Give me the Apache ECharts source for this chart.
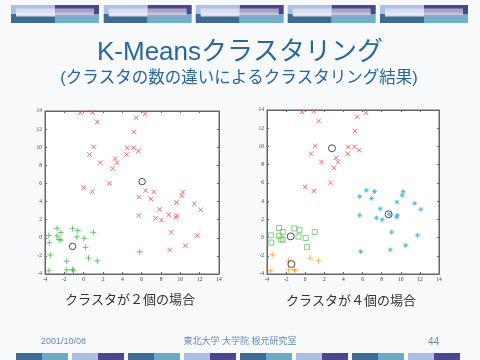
<!DOCTYPE html>
<html><head><meta charset="utf-8">
<script src="https://cdn.jsdelivr.net/npm/echarts@6/dist/echarts.min.js"></script>
<style>html,body{margin:0;padding:0;background:#f7f9fa;}#c{width:480px;height:360px;}</style>
</head><body><div id="c"></div>
<script>
// Data
const upperPts = [[-0.35,13.8],[0.9,13.85],[1.4,12.8],[5.45,13.25],[6.35,13.7],[5.2,11.7],[1.05,10.05],[0.6,9.2],[4.5,9.95],[5.15,9.95],[5.65,9.6],[4.45,9.2],[1.7,8.3],[3.25,8.75],[3.45,8.3],[3.0,7.65],[2.65,6.0],[0.0,5.55],[0.9,5.1]];
const rightPts = [[6.4,5.2],[7.25,5.05],[5.7,4.5],[6.95,4.3],[10.25,5.05],[10.15,4.65],[9.6,3.9],[11.45,3.75],[12.1,3.1],[7.85,3.15],[8.8,2.55],[9.65,2.45],[9.55,2.25],[5.7,2.45],[7.45,2.15],[8.05,1.95],[9.05,0.6],[11.75,0.25],[10.5,-0.85],[8.9,-1.35]];
const outlierPt = [[5.8,-1.55]];
const squarePts = [[-2.75,1.05],[-2.35,0.6],[-2.75,0.2],[-3.6,0.25],[-3.55,-0.55],[-2.55,-0.2],[-2.35,-0.25],[-1.15,1.0],[-0.6,0.8],[-0.7,0.1],[0.05,-0.05],[1.0,0.6],[0.2,-1.05]];
const lowPts = [[-3.45,-1.9],[0.5,-2.25],[1.4,-2.55],[-1.75,-2.6],[-3.6,-3.65],[-1.75,-3.55],[-1.15,-3.5],[-1.05,-3.65]];
const leftCenters = [[6.05,6.2],[-1.15,-0.95]];
const rightCenters = [[2.8,9.8],[8.73,2.55],[-1.52,0.13],[-1.45,-2.9]];
const axisMin = -4, axisMax = 14, axisStep = 2;
const titleText = 'K-Meansクラスタリング';
const subtitleText = '(クラスタの数の違いによるクラスタリング結果)';
const captionLeft = 'クラスタが２個の場合';
const captionRight = 'クラスタが４個の場合';
const footerDate = '2001/10/08';
const footerOrg = '東北大学 大学院 根元研究室';
const footerPage = '44';

const leftRed = upperPts.concat(rightPts);
const leftGreen = squarePts.concat(lowPts, outlierPt);
const rightCyan = rightPts.concat(outlierPt);

const X_PATH = 'path://M0,0L10,10M10,0L0,10';
const PLUS_PATH = 'path://M5,0L5,10M0,5L10,5';
const STAR_PATH = 'path://M0,5L10,5M5,0L5,10M1.5,1.5L8.5,8.5M8.5,1.5L1.5,8.5';

function mkAxis(type, pos, grid, labels){
  return {
    type:'value', gridIndex:grid, position:pos, min:axisMin, max:axisMax, interval:axisStep,
    axisLine:{show:true, onZero:false, lineStyle:{color:'#666', width:1}},
    axisTick:{show:true, inside:true, length:2, lineStyle:{color:'#666'}},
    axisLabel:{show:labels, fontSize:5.5, color:'#444', margin:3, fontFamily:'Liberation Serif'},
    splitLine:{show:false}
  };
}
function sc(data, xi, sym, size, color, z){
  return {type:'scatter', xAxisIndex:xi, yAxisIndex:xi, data:data, symbol:sym, symbolSize:size,
    itemStyle:{color:'transparent', borderColor:color, borderWidth:1}, z:z||2, silent:true, animation:false};
}

const graphics = [];
// top decorative bars
[11, 103.7, 195.7, 287.7, 380].forEach(x0=>{
  graphics.push({type:'rect', shape:{x:x0,y:5,width:44,height:9}, style:{fill:'#aebfe6'}});
  graphics.push({type:'rect', shape:{x:x0+44,y:5,width:44,height:9}, style:{fill:'#4a478a'}});
  graphics.push({type:'rect', shape:{x:x0,y:14,width:44,height:9}, style:{fill:'#3f6a94'}});
  graphics.push({type:'rect', shape:{x:x0+44,y:14,width:44,height:9}, style:{fill:'#70b0c8'}});
  graphics.push({type:'rect', shape:{x:x0+5,y:8.5,width:39,height:8}, style:{fill:'#d6def0'}});
  graphics.push({type:'rect', shape:{x:x0+44,y:8.5,width:39,height:8}, style:{fill:'#a6a2cc'}});
  graphics.push({type:'rect', shape:{x:x0+5,y:12.5,width:78,height:2.5}, style:{fill:'#ffffff', opacity:0.35}});
});
// bottom decorative bars
[16,72,128,184,240,296,352,408].forEach((x0,i)=>{
  const a = i%2===0 ? ['#3f6a94','#6aaac4'] : ['#aebfe6','#4a478a'];
  graphics.push({type:'rect', shape:{x:x0,y:353,width:26,height:7}, style:{fill:a[0]}});
  graphics.push({type:'rect', shape:{x:x0+26,y:353,width:26,height:7}, style:{fill:a[1]}});
});
const jp = "'Liberation Sans','Noto Sans CJK JP',sans-serif";
graphics.push({type:'text', x:240, y:53, style:{text:titleText, font:'26px '+jp, fill:'#2a679c', textAlign:'center', textVerticalAlign:'middle'}});
graphics.push({type:'text', x:239, y:78, style:{text:subtitleText, font:'16.5px '+jp, fill:'#2a679c', textAlign:'center', textVerticalAlign:'middle'}});
graphics.push({type:'text', x:130, y:300, style:{text:captionLeft, font:'13px '+jp, fill:'#333', textAlign:'center', textVerticalAlign:'middle'}});
graphics.push({type:'text', x:351, y:301, style:{text:captionRight, font:'13px '+jp, fill:'#333', textAlign:'center', textVerticalAlign:'middle'}});
graphics.push({type:'text', x:41, y:342, style:{text:footerDate, font:'9px '+jp, fill:'#6a8ab4', textAlign:'left', textVerticalAlign:'middle'}});
graphics.push({type:'text', x:240, y:342, style:{text:footerOrg, font:'9px '+jp, fill:'#6a8ab4', textAlign:'center', textVerticalAlign:'middle'}});
graphics.push({type:'text', x:439, y:342, style:{text:footerPage, font:'10px '+jp, fill:'#6a8ab4', textAlign:'right', textVerticalAlign:'middle'}});

const chart = echarts.init(document.getElementById('c'), null, {renderer:'canvas'});
chart.setOption({
  backgroundColor:'#f7f9fa',
  animation:false,
  grid:[
    {left:45, top:111, width:174, height:163, show:true, backgroundColor:'#ffffff', borderColor:'#666', borderWidth:1},
    {left:267, top:110, width:172, height:164, show:true, backgroundColor:'#ffffff', borderColor:'#666', borderWidth:1}
  ],
  xAxis:[mkAxis('x','bottom',0,true), mkAxis('x','top',0,false), mkAxis('x','bottom',1,true), mkAxis('x','top',1,false)],
  yAxis:[mkAxis('y','left',0,true), mkAxis('y','right',0,false), mkAxis('y','left',1,true), mkAxis('y','right',1,false)],
  series:[
    sc(leftRed, 0, X_PATH, 4.5, '#f04848'),
    sc(leftGreen, 0, PLUS_PATH, 6, '#4cb84c'),
    sc(leftCenters, 0, 'circle', 6.5, '#222', 5),
    sc(upperPts, 2, X_PATH, 4.5, '#f04848'),
    sc(rightCyan, 2, STAR_PATH, 5, '#3cb4e0'),
    sc(squarePts, 2, 'rect', 5, '#66c266'),
    sc(lowPts, 2, PLUS_PATH, 6, '#ffa030'),
    sc(rightCenters, 2, 'circle', 7, '#222', 5)
  ],
  graphic:graphics
});
</script></body></html>
